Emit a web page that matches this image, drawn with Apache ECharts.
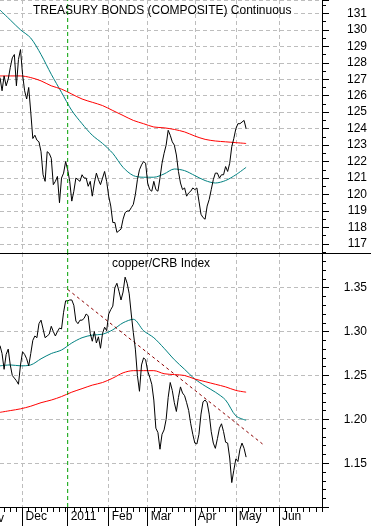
<!DOCTYPE html>
<html>
<head>
<meta charset="utf-8">
<script src="https://cdn.jsdelivr.net/npm/echarts@6/dist/echarts.min.js"></script>
<style>
html,body{margin:0;padding:0;background:#fff;}
#c{width:371px;height:526px;}
</style>
</head>
<body>
<div id="c"></div>
<script>
// ---- axis / calendar ----
const calendarStart = '2010-11-01';
const calendarEnd = '2011-06-30';
const firstShown = '2010-11-15';
const holidays = ['2010-11-25','2010-12-24','2011-01-17','2011-02-21','2011-04-22','2011-05-30'];
const monthNames = ['2011','Feb','Mar','Apr','May','Jun','Jul','Aug','Sep','Oct','Nov','Dec'];
const markerDate = '2011-01-03';
const bondRange = [116.45, 131.81];
const ratioRange = [1.1002, 1.3895];

// ---- top panel: Treasury bonds (daily closes from first shown day) ----
const bondClose = [
127.1,126.3,127.2,126.6,127.0,127.7,128.3,128.5,126.6,128.2,
128.8,127.3,126.3,125.8,126.5,125.0,123.4,123.6,123.3,123.2,
122.6,121.2,120.8,122.6,122.5,122.2,120.6,120.8,121.1,119.5,
121.0,121.3,122.0,121.5,120.8,119.6,120.2,121.0,120.9,120.8,
121.2,121.0,121.0,120.5,120.8,119.9,120.7,121.3,120.9,120.6,
121.0,121.4,120.8,119.9,119.3,118.3,118.3,117.7,117.8,117.9,
118.5,118.9,119.0,119.0,119.2,119.4,120.0,120.9,121.5,121.8,
122.0,121.9,120.7,120.3,120.2,120.8,120.3,120.2,121.0,121.9,
122.5,123.0,123.9,123.6,123.2,123.0,122.4,121.4,120.7,120.3,
120.4,119.9,120.1,120.2,120.4,120.3,120.4,119.6,118.8,118.6,
118.5,119.3,119.7,120.3,120.9,121.3,121.3,121.0,121.2,121.2,
121.7,121.4,121.9,122.9,123.4,124.0,124.3,124.3,124.4,124.5,
124.0];

// moving averages sampled every 5 trading days
const maIdx = [0,5,10,15,20,25,30,35,40,45,50,55,60,65,70,75,80,85,90,95,100,105,110,115,120];
const bondMaShort = [131.2,130.6,130.0,129.5,128.5,127.3,126.2,125.1,124.3,123.6,123.1,122.5,121.65,121.15,121.05,121.05,121.25,121.55,121.45,121.15,120.85,120.7,120.85,121.2,121.65];
const bondMaLong  = [127.2,127.2,127.2,127.1,126.9,126.6,126.4,126.1,125.8,125.6,125.4,125.1,124.8,124.5,124.3,124.1,124.05,123.95,123.8,123.55,123.35,123.25,123.2,123.15,123.1];

// ---- bottom panel: copper/CRB ratio ----
const ratioClose = [
1.284,1.275,1.257,1.274,1.280,1.262,1.250,1.247,1.244,1.240,
1.262,1.277,1.274,1.269,1.261,1.275,1.290,1.295,1.293,1.309,
1.313,1.303,1.293,1.295,1.297,1.306,1.300,1.295,1.300,1.304,
1.303,1.322,1.335,1.335,1.336,1.336,1.330,1.312,1.309,1.313,
1.313,1.315,1.320,1.318,1.298,1.289,1.300,1.287,1.294,1.281,
1.298,1.305,1.301,1.320,1.325,1.329,1.350,1.355,1.346,1.336,
1.345,1.362,1.355,1.343,1.320,1.299,1.280,1.250,1.232,1.262,
1.270,1.268,1.255,1.248,1.240,1.222,1.190,1.185,1.166,1.183,
1.188,1.200,1.225,1.242,1.233,1.219,1.209,1.225,1.237,1.230,
1.227,1.219,1.210,1.195,1.183,1.173,1.172,1.183,1.206,1.220,
1.222,1.219,1.206,1.186,1.173,1.167,1.178,1.190,1.195,1.186,
1.174,1.173,1.156,1.128,1.142,1.155,1.152,1.166,1.173,1.167,
1.157];
const ratioMaShort = [1.261,1.262,1.261,1.262,1.269,1.275,1.279,1.287,1.293,1.296,1.297,1.302,1.310,1.314,1.301,1.293,1.281,1.268,1.257,1.246,1.238,1.231,1.222,1.204,1.199];
const ratioMaLong  = [1.208,1.210,1.212,1.215,1.219,1.222,1.226,1.231,1.235,1.239,1.242,1.247,1.253,1.2555,1.2555,1.2555,1.252,1.251,1.250,1.246,1.243,1.240,1.237,1.233,1.231];
const trendIdx = [33,128];
const trendVal = [1.348,1.172];

// ---- build trading-day categories ----
const days = [], ordinal = [];
(function(){
  const p = s => { const a = s.split('-').map(Number); return Date.UTC(a[0], a[1]-1, a[2]); };
  let t = p(calendarStart); const end = p(calendarEnd);
  let month = -1, k = 0;
  while (t <= end) {
    const d = new Date(t);
    const wd = d.getUTCDay();
    const s = d.toISOString().slice(0,10);
    if (wd !== 0 && wd !== 6 && holidays.indexOf(s) < 0) {
      if (d.getUTCMonth() !== month) { month = d.getUTCMonth(); k = 0; }
      if (s >= firstShown) { days.push(s); ordinal.push(k); }
      k++;
    }
    t += 86400000;
  }
})();

const isMonthStart = (i) => ordinal[i] === 0;
const isGridMonth = (i) => ordinal[i] === 0 && days[i] !== markerDate;
const isMinor = (i) => ordinal[i] > 0 && ordinal[i] % 3 === 0;
const monthLabel = (v) => monthNames[Number(v.slice(5,7)) - 1];

const FONT = '"Liberation Sans", Arial, sans-serif';
const GREEN = '#00a000';
const gridLine = { show: true, lineStyle: { color: '#bdbdbd', type: [4,3], width: 1 } };
const pairs = (idx, vals) => idx.map((i,k) => [i, vals[k]]);
const markerSeries = (xi, range) => ({
  type: 'line', xAxisIndex: xi, yAxisIndex: xi === 0 ? 0 : 1, z: 5,
  data: [[markerDate, range[0]], [markerDate, range[1]]],
  showSymbol: false, silent: true, color: GREEN,
  lineStyle: { color: GREEN, type: [4,3], width: 1 }
});

const chart = echarts.init(document.getElementById('c'), null, { renderer: 'canvas' });
chart.setOption({
  animation: false,
  backgroundColor: '#ffffff',
  grid: [
    { left: 0, right: 49, top: 0, height: 253 },
    { left: 0, right: 49, top: 253, height: 254 }
  ],
  xAxis: [
    { gridIndex: 0, type: 'category', data: days, boundaryGap: false,
      axisLine: { show: false }, axisTick: { show: false }, axisLabel: { show: false },
      splitLine: Object.assign({ interval: (i) => isGridMonth(i) }, gridLine) },
    { gridIndex: 1, type: 'category', data: days, boundaryGap: false, position: 'bottom',
      axisLine: { show: true, onZero: false, lineStyle: { color: '#000', width: 1 } },
      axisTick: { show: true, length: 19, interval: (i) => isMonthStart(i), lineStyle: { color: '#000' } },
      axisLabel: { show: true, interval: (i) => isMonthStart(i), formatter: monthLabel,
        align: 'left', margin: 4, padding: [0,0,0,3], fontSize: 12, color: '#000', fontFamily: FONT },
      splitLine: Object.assign({ interval: (i) => isGridMonth(i) }, gridLine) },
    { gridIndex: 1, type: 'category', data: days, boundaryGap: false, position: 'bottom',
      axisLine: { show: false, onZero: false },
      axisTick: { show: true, length: 5, interval: (i) => isMinor(i), lineStyle: { color: '#000' } },
      axisLabel: { show: false }, splitLine: { show: false } }
  ],
  yAxis: [
    { gridIndex: 0, type: 'value', position: 'right', min: bondRange[0], max: bondRange[1], splitNumber: 15, scale: true,
      axisLine: { show: true, lineStyle: { color: '#000' } },
      axisTick: { show: true, length: 7, lineStyle: { color: '#000' } },
      minorTick: { show: true, splitNumber: 2, length: 4, lineStyle: { color: '#000' } },
      axisLabel: { show: true, align: 'right', margin: 45, fontSize: 12, color: '#000', fontFamily: FONT,
        formatter: (v) => Math.abs(v - Math.round(v)) < 1e-6 ? String(Math.round(v)) : '' },
      splitLine: gridLine },
    { gridIndex: 1, type: 'value', position: 'right', min: ratioRange[0], max: ratioRange[1], splitNumber: 6, scale: true,
      axisLine: { show: true, lineStyle: { color: '#000' } },
      axisTick: { show: true, length: 7, lineStyle: { color: '#000' } },
      minorTick: { show: true, splitNumber: 5, length: 4, lineStyle: { color: '#000' } },
      axisLabel: { show: true, align: 'right', margin: 45, fontSize: 12, color: '#000', fontFamily: FONT,
        formatter: (v) => Math.abs(v*20 - Math.round(v*20)) < 1e-6 ? v.toFixed(2) : '' },
      splitLine: gridLine }
  ],
  series: [
    markerSeries(0, bondRange),
    { type: 'line', xAxisIndex: 0, yAxisIndex: 0, data: pairs(maIdx, bondMaShort), smooth: 0.3,
      showSymbol: false, silent: true, lineStyle: { color: '#008080', width: 1 } },
    { type: 'line', xAxisIndex: 0, yAxisIndex: 0, data: pairs(maIdx, bondMaLong), smooth: 0.3,
      showSymbol: false, silent: true, lineStyle: { color: '#ff0000', width: 1 } },
    { type: 'line', xAxisIndex: 0, yAxisIndex: 0, data: bondClose,
      showSymbol: false, silent: true, lineStyle: { color: '#000', width: 1 } },
    markerSeries(1, ratioRange),
    { type: 'line', xAxisIndex: 1, yAxisIndex: 1, data: pairs(maIdx, ratioMaShort), smooth: 0.3,
      showSymbol: false, silent: true, lineStyle: { color: '#008080', width: 1 } },
    { type: 'line', xAxisIndex: 1, yAxisIndex: 1, data: pairs(maIdx, ratioMaLong), smooth: 0.3,
      showSymbol: false, silent: true, lineStyle: { color: '#ff0000', width: 1 } },
    { type: 'line', xAxisIndex: 1, yAxisIndex: 1, data: pairs(trendIdx, trendVal),
      showSymbol: false, silent: true, lineStyle: { color: '#8b0000', width: 1, type: [3,3] } },
    { type: 'line', xAxisIndex: 1, yAxisIndex: 1, data: ratioClose,
      showSymbol: false, silent: true, lineStyle: { color: '#000', width: 1 } }
  ],
  graphic: [
    { type: 'line', z: 100, shape: { x1: 0, y1: 253.5, x2: 371, y2: 253.5 }, style: { stroke: '#000', lineWidth: 1 } },
    { type: 'text', z: 100, style: { x: 33, y: 11, text: 'TREASURY BONDS (COMPOSITE) Continuous', verticalAlign: 'middle',
        font: '12px ' + FONT, fill: '#000' } },
    { type: 'text', z: 100, style: { x: 112, y: 264, text: 'copper/CRB Index', verticalAlign: 'middle',
        font: '12px ' + FONT, fill: '#000' } },
    { type: 'text', z: 100, style: { x: 4, y: 519, text: 'Nov', align: 'right', verticalAlign: 'middle',
        font: '12px ' + FONT, fill: '#000' } }
  ]
});
</script>
</body>
</html>
